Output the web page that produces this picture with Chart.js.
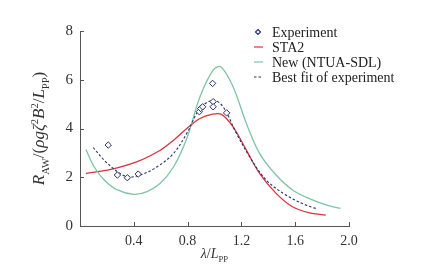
<!DOCTYPE html>
<html><head><meta charset="utf-8">
<script src="https://cdn.jsdelivr.net/npm/chart.js@4/dist/chart.umd.min.js"></script>
<style>html,body{margin:0;padding:0;background:#fff}#wrap{width:434px;height:268px}</style>
</head><body><div id="wrap"><canvas id="c" width="434" height="268"></canvas></div>
<script>
const expX = [0.21, 0.278, 0.352, 0.433, 0.887, 0.897, 0.912, 0.986, 0.99, 0.99, 1.09];
const expY = [3.32, 2.09, 1.98, 2.13, 4.69, 4.82, 4.89, 5.85, 5.10, 4.89, 4.64];

const sta2X = [0.044, 0.229, 0.425, 0.597, 0.696, 0.794, 0.892, 0.979, 1.052, 1.138, 1.237, 1.335, 1.458, 1.58, 1.70, 1.827];
const sta2Y = [2.16, 2.32, 2.64, 3.11, 3.52, 4.00, 4.41, 4.58, 4.58, 4.07, 3.11, 2.16, 1.34, 0.79, 0.55, 0.45];

const ntuaX = [0.044, 0.105, 0.18, 0.278, 0.40, 0.499, 0.597, 0.696, 0.794, 0.892, 0.99, 1.047, 1.138, 1.237, 1.335, 1.458, 1.58, 1.728, 1.875, 1.937];
const ntuaY = [3.14, 2.43, 1.89, 1.48, 1.30, 1.41, 1.75, 2.43, 3.59, 5.30, 6.39, 6.53, 5.71, 4.21, 2.98, 2.09, 1.48, 1.07, 0.79, 0.72];

const fitX = [0.098, 0.18, 0.278, 0.352, 0.45, 0.573, 0.696, 0.794, 0.892, 0.99, 1.064, 1.163, 1.261, 1.384, 1.531, 1.679, 1.765];
const fitY = [3.22, 2.70, 2.23, 2.02, 2.09, 2.43, 2.98, 3.80, 4.82, 5.16, 4.89, 3.80, 2.84, 1.89, 1.27, 0.86, 0.70];

const seriesLabels = ['Experiment', 'STA2', 'New (NTUA-SDL)', 'Best fit of experiment'];
const xTickStep = 0.4, yTickStep = 2;

const pts = (xs, ys) => xs.map((x, i) => ({x, y: ys[i]}));
const NAVY = '#26306e', RED = '#d8333f', GREEN = '#7ec3a5';
const SERIF = '"Liberation Serif", "DejaVu Serif", serif';

const richText = (ctx, segs, size) => {
  let w = 0;
  for (const s of segs) {
    const fs = s.p === 'n' ? size : size * 0.62;
    ctx.font = (s.i ? 'italic ' : '') + fs + 'px ' + SERIF;
    s.fs = fs; s.w = ctx.measureText(s.t).width; w += s.w;
  }
  return w;
};
const drawRich = (ctx, segs, size, x, y) => {
  const w = richText(ctx, segs, size);
  let cx = x - w / 2;
  for (const s of segs) {
    ctx.font = (s.i ? 'italic ' : '') + s.fs + 'px ' + SERIF;
    const dy = s.p === 'b' ? size * 0.28 : s.p === 'u' ? -size * 0.38 : 0;
    ctx.fillText(s.t, cx, y + dy);
    cx += s.w;
  }
};

const decor = {
  id: 'decor',
  afterDraw(chart) {
    const ctx = chart.ctx, a = chart.chartArea;
    const xs = chart.scales.x, ys = chart.scales.y;
    ctx.save();
    ctx.strokeStyle = '#555'; ctx.lineWidth = 1;
    ctx.beginPath();
    xs.ticks.forEach(t => { if (t.value === 0) return; const px = Math.round(xs.getPixelForValue(t.value)) + 0.5; ctx.moveTo(px, a.bottom); ctx.lineTo(px, a.bottom - 4); });
    ys.ticks.forEach(t => { const py = Math.round(ys.getPixelForValue(t.value)) + 0.5; ctx.moveTo(a.left, py); ctx.lineTo(a.left + 4, py); });
    ctx.stroke();

    ctx.fillStyle = '#333'; ctx.textBaseline = 'alphabetic';
    // x title
    drawRich(ctx, [{t:'λ', i:true, p:'n'}, {t:'/', p:'n'}, {t:'L', i:true, p:'n'}, {t:'PP', p:'b'}], 14, (a.left + a.right) / 2, 258);
    // y title
    ctx.save();
    ctx.translate(44, (a.top + a.bottom) / 2);
    ctx.rotate(-Math.PI / 2);
    drawRich(ctx, [{t:'R', i:true, p:'n'}, {t:'AW', p:'b'}, {t:'/(', p:'n'}, {t:'ρgζ', i:true, p:'n'}, {t:'2', p:'u'}, {t:'B', i:true, p:'n'}, {t:'2', p:'u'}, {t:'/', p:'n'}, {t:'L', i:true, p:'n'}, {t:'PP', p:'b'}, {t:')', p:'n'}], 17, 0, 0);
    ctx.restore();

    // legend
    const lx = 258, tx = 272, rows = [32, 47, 62, 77];
    ctx.font = '14px ' + SERIF; ctx.textBaseline = 'middle'; ctx.fillStyle = '#222';
    chart.data.datasets.forEach((ds, i) => {
      const y = rows[i];
      ctx.strokeStyle = ds.borderColor; ctx.lineWidth = 1.2;
      if (i === 0) {
        ctx.beginPath(); ctx.moveTo(lx, y - 2.5); ctx.lineTo(lx + 2.5, y); ctx.lineTo(lx, y + 2.5); ctx.lineTo(lx - 2.5, y); ctx.closePath(); ctx.stroke();
      } else {
        ctx.setLineDash(ds.borderDash || []);
        ctx.beginPath(); ctx.moveTo(lx - 4, y); ctx.lineTo(lx + 5, y); ctx.stroke();
        ctx.setLineDash([]);
      }
      ctx.fillText(ds.label, tx, y + 1);
    });
    ctx.restore();
  }
};

new Chart(document.getElementById('c'), {
  type: 'scatter',
  data: {
    datasets: [
      { label: seriesLabels[0], data: pts(expX, expY), showLine: false, pointStyle: 'rectRot', pointRadius: 3.2, borderColor: NAVY, backgroundColor: '#fff', borderWidth: 1, order: 0 },
      { label: seriesLabels[1], data: pts(sta2X, sta2Y), showLine: true, pointRadius: 0, borderColor: RED, borderWidth: 1.3, tension: 0.35, order: 3 },
      { label: seriesLabels[2], data: pts(ntuaX, ntuaY), showLine: true, pointRadius: 0, borderColor: GREEN, borderWidth: 1.3, tension: 0.35, order: 2 },
      { label: seriesLabels[3], data: pts(fitX, fitY), showLine: true, pointRadius: 0, borderColor: NAVY, borderWidth: 1.1, borderDash: [2.5, 2], tension: 0.35, order: 1 }
    ]
  },
  options: {
    responsive: false, animation: false,
    layout: { padding: { left: 30, top: 31, right: 85, bottom: 0 } },
    plugins: { legend: { display: false }, tooltip: { enabled: false } },
    scales: {
      x: {
        type: 'linear', min: 0, max: 2.0,
        grid: { drawOnChartArea: false, drawTicks: false },
        border: { display: true, color: '#555', width: 1 },
        ticks: { stepSize: xTickStep, padding: 7, color: '#333', font: { family: SERIF, size: 14 },
          callback: v => v === 0 ? '' : v.toFixed(1) },
        afterFit: s => { s.height = 42; }
      },
      y: {
        type: 'linear', min: 0, max: 8,
        grid: { drawOnChartArea: false, drawTicks: false },
        border: { display: true, color: '#555', width: 1 },
        ticks: { stepSize: yTickStep, padding: 7, color: '#333', font: { family: SERIF, size: 15 } },
        afterFit: s => { s.width = 50; }
      }
    }
  },
  plugins: [decor]
});
</script>
</body></html>
